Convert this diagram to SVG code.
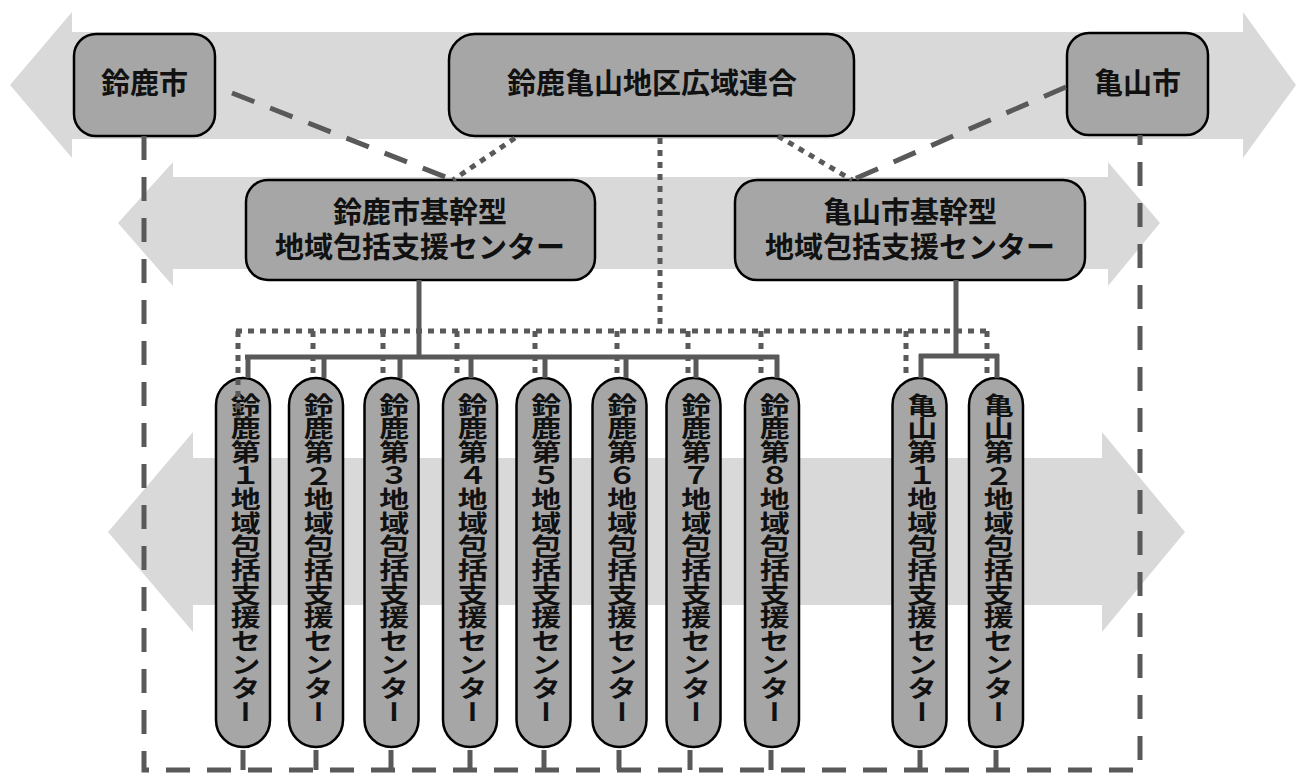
<svg xmlns="http://www.w3.org/2000/svg" width="1296" height="776" viewBox="0 0 1296 776">
<style>
.bg{fill:#d9d9d9;}
.box{fill:#a6a6a6;stroke:#000;stroke-width:2.5;}
.t{font-family:'Liberation Sans','Noto Sans CJK JP',sans-serif;font-weight:bold;font-size:29px;fill:#111;text-anchor:middle;dominant-baseline:central;}
.v{font-family:'Liberation Sans','Noto Sans CJK JP',sans-serif;font-weight:bold;font-size:30px;fill:#111;writing-mode:vertical-rl;text-orientation:upright;}
.c{fill:none;stroke:#595959;stroke-width:5;}
.dash{stroke-dasharray:24 17;}
.dot{stroke-dasharray:6 6;}
</style>
<g id="arrows">
<polygon class="bg" points="10,85 72,12 72,32 1243,32 1243,12 1296,85 1243,158 1243,139 72,139 72,158"/>
<polygon class="bg" points="118,223 173,162 173,177 1108,177 1108,162 1160,223 1108,286 1108,269 173,269 173,286"/>
<polygon class="bg" points="108,532 193,432 193,458 1102,458 1102,432 1185,532 1102,632 1102,605 193,605 193,632"/>
</g>
<g id="n-suzuka">
<rect class="box" x="74" y="34" width="141" height="102" rx="22"/>
<text class="t" x="144.5" y="84">鈴鹿市</text>
</g>
<g id="n-kouiki">
<rect class="box" x="449" y="34" width="405" height="102" rx="26"/>
<text class="t" x="652" y="84">鈴鹿亀山地区広域連合</text>
</g>
<g id="n-kameyama">
<rect class="box" x="1067" y="33" width="141" height="102" rx="22"/>
<text class="t" x="1137.5" y="84">亀山市</text>
</g>
<g id="n-suzuka-core">
<rect class="box" x="246" y="180" width="349" height="100" rx="22"/>
<text class="t" x="420" y="213">鈴鹿市基幹型</text>
<text class="t" x="420" y="248">地域包括支援センター</text>
</g>
<g id="n-kameyama-core">
<rect class="box" x="735" y="180" width="350" height="100" rx="22"/>
<text class="t" x="910" y="213">亀山市基幹型</text>
<text class="t" x="910" y="248">地域包括支援センター</text>
</g>
<g id="n-s1"><rect class="box" x="216" y="378" width="54" height="369" rx="27"/><text class="v" transform="translate(243,393) scale(1,0.787)">鈴鹿第１地域包括支援センター</text></g>
<g id="n-s2"><rect class="box" x="289" y="378" width="54" height="369" rx="27"/><text class="v" transform="translate(316,393) scale(1,0.787)">鈴鹿第２地域包括支援センター</text></g>
<g id="n-s3"><rect class="box" x="364.5" y="378" width="54" height="369" rx="27"/><text class="v" transform="translate(391.5,393) scale(1,0.787)">鈴鹿第３地域包括支援センター</text></g>
<g id="n-s4"><rect class="box" x="443" y="378" width="54" height="369" rx="27"/><text class="v" transform="translate(470,393) scale(1,0.787)">鈴鹿第４地域包括支援センター</text></g>
<g id="n-s5"><rect class="box" x="516.5" y="378" width="54" height="369" rx="27"/><text class="v" transform="translate(543.5,393) scale(1,0.787)">鈴鹿第５地域包括支援センター</text></g>
<g id="n-s6"><rect class="box" x="592.5" y="378" width="54" height="369" rx="27"/><text class="v" transform="translate(619.5,393) scale(1,0.787)">鈴鹿第６地域包括支援センター</text></g>
<g id="n-s7"><rect class="box" x="666.5" y="378" width="54" height="369" rx="27"/><text class="v" transform="translate(693.5,393) scale(1,0.787)">鈴鹿第７地域包括支援センター</text></g>
<g id="n-s8"><rect class="box" x="745" y="378" width="54" height="369" rx="27"/><text class="v" transform="translate(772,393) scale(1,0.787)">鈴鹿第８地域包括支援センター</text></g>
<g id="n-k1"><rect class="box" x="892.5" y="378" width="54" height="369" rx="27"/><text class="v" transform="translate(919.5,393) scale(1,0.787)">亀山第１地域包括支援センター</text></g>
<g id="n-k2"><rect class="box" x="969" y="378" width="54" height="369" rx="27"/><text class="v" transform="translate(996,393) scale(1,0.787)">亀山第２地域包括支援センター</text></g>
<g id="connectors">
<path class="c dash" d="M232,93 L453,180"/>
<path class="c dash" d="M1066,87 L852,180"/>
<path class="c dot" d="M515,138 L453,180"/>
<path class="c dot" d="M778,136 L852,180"/>
<path class="c dot" d="M660,138 V331"/>
<path class="c dot" d="M236,331 H990"/>
<path class="c dot" d="M238,331 V418 M313,331 V378 M383,331 V378 M457,331 V378 M535,331 V378 M617,331 V378 M688,331 V378 M761,331 V378 M906,331 V378 M987,331 V378"/>
<path class="c" d="M419,280 V357 M245,357 H779 M248,355 V378 M324,357 V378 M400,357 V378 M471,357 V378 M545,357 V378 M626,357 V378 M696,357 V378 M777,355 V378"/>
<path class="c" d="M956,280 V356 M919,356 H999 M921,354 V378 M997,354 V378"/>
<path class="c dash" d="M144,136 V770 H1140 V135"/>
<path class="c" d="M243,750 V770 M316,750 V770 M391,750 V770 M470,750 V770 M544,750 V770 M619,750 V770 M690,750 V770 M771,750 V770 M920,750 V770 M996,750 V770"/>
</g>
</svg>
